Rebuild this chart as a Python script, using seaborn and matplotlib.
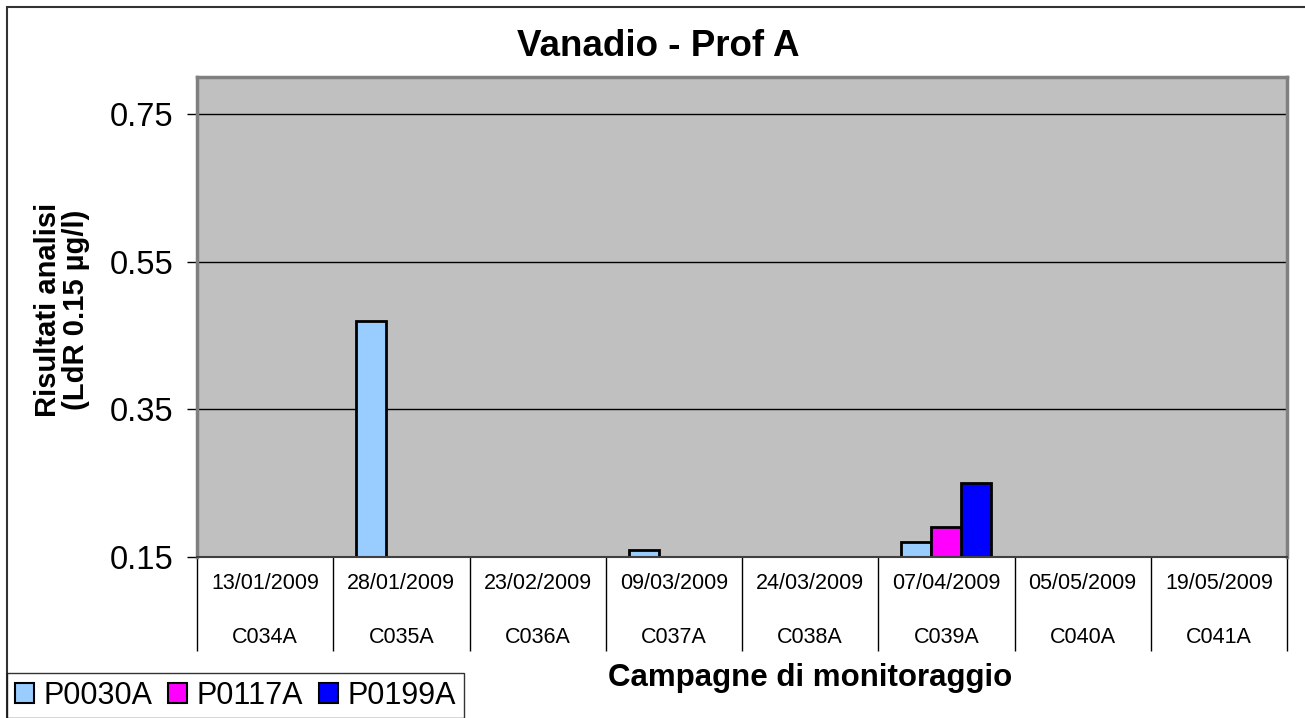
import numpy as np
import pandas as pd
import matplotlib
matplotlib.use("Agg")
import matplotlib.pyplot as plt
import seaborn as sns
from matplotlib.patches import Patch, Rectangle
from matplotlib.transforms import blended_transform_factory

# -------------------------
# DATA
# -------------------------
campagne = ["C034A", "C035A", "C036A", "C037A", "C038A", "C039A", "C040A", "C041A"]
date = ["13/01/2009", "28/01/2009", "23/02/2009", "09/03/2009",
        "24/03/2009", "07/04/2009", "05/05/2009", "19/05/2009"]
punti = ["P0030A", "P0117A", "P0199A"]
p0030a = [np.nan, 0.47, np.nan, 0.16, np.nan, 0.17, np.nan, np.nan]
p0117a = [np.nan, np.nan, np.nan, np.nan, np.nan, 0.19, np.nan, np.nan]
p0199a = [np.nan, np.nan, np.nan, np.nan, np.nan, 0.25, np.nan, np.nan]
colori = ["#99ccff", "#ff00ff", "#0000ff"]
y_ticks = [0.15, 0.35, 0.55, 0.75]

# long format for seaborn
df = pd.DataFrame({
    "campagna": campagne * 3,
    "punto": [p for p in punti for _ in campagne],
    "valore": p0030a + p0117a + p0199a,
}).dropna()

# -------------------------
# STYLE
# -------------------------
sns.set_theme(style="white")
plt.rcParams["font.family"] = ["Liberation Sans", "DejaVu Sans"]
plt.rcParams["text.color"] = "black"
plt.rcParams["axes.labelcolor"] = "black"
plt.rcParams["xtick.color"] = "black"
plt.rcParams["ytick.color"] = "black"

fig = plt.figure(figsize=(13.05, 7.18), dpi=100)
ax = fig.add_axes([197 / 1305, 161 / 718, 1090 / 1305, 480 / 718])

sns.barplot(data=df, x="campagna", y="valore", hue="punto",
            order=campagne, hue_order=punti, palette=colori, saturation=1,
            width=0.66, edgecolor="black", linewidth=2,
            errorbar=None, legend=False, ax=ax)

ax.set_facecolor("#c0c0c0")
ax.set_xlim(-0.5, len(campagne) - 0.5)
ax.set_ylim(0.15, 0.80)
ax.set_yticks(y_ticks)
ax.set_yticklabels([f"{v:.2f}" for v in y_ticks], fontsize=23.5, color="black")
ax.yaxis.grid(True, color="black", linewidth=1)
ax.set_axisbelow(True)
ax.tick_params(axis="y", which="major", direction="out", length=7, width=1,
               color="black", pad=10, left=True)

for side in ["top", "right", "left"]:
    ax.spines[side].set_color("#808080")
    ax.spines[side].set_linewidth(2.5)
ax.spines["bottom"].set_color("#404040")
ax.spines["bottom"].set_linewidth(1.5)

# two-level category table below the axis
ax.set_xticks(range(len(campagne)))
ax.set_xticklabels([])
ax.tick_params(axis="x", which="major", length=0, bottom=False)
ax.set_xticks(np.arange(-0.5, len(campagne), 1), minor=True)
ax.tick_params(axis="x", which="minor", direction="out", length=68, width=1,
               color="black", bottom=True)
trans = blended_transform_factory(ax.transData, ax.transAxes)
for i, (d, c) in enumerate(zip(date, campagne)):
    ax.text(i, -0.056, d, transform=trans, ha="center", va="center",
            fontsize=15.5, color="black")
    ax.text(i, -0.167, c, transform=trans, ha="center", va="center",
            fontsize=15.5, color="black")

ax.set_xlabel("")
ax.set_ylabel("Risultati analisi\n(LdR 0.15 µg/l)", fontsize=21,
              fontweight="bold", linespacing=1.0, color="black")
ax.yaxis.set_label_coords(-0.098, 0.515)

fig.text(658 / 1305, 1 - 46 / 718, "Vanadio - Prof A", ha="center", va="center",
         fontsize=26.5, fontweight="bold", color="black")
fig.text(810 / 1305, 1 - 678 / 718, "Campagne di monitoraggio", ha="center",
         va="center", fontsize=22.5, fontweight="bold", color="black")

# legend at the bottom left
handles = [Patch(facecolor=col, edgecolor="black", linewidth=1.5) for col in colori]
leg = fig.legend(handles, punti, loc="upper left",
                 bbox_to_anchor=(7 / 1305, (718 - 673) / 718),
                 ncol=3, fontsize=22, frameon=True, fancybox=False,
                 handlelength=0.62, handleheight=0.62, handletextpad=0.33,
                 columnspacing=0.5, borderpad=0.25, borderaxespad=0,
                 labelcolor="black")
leg.get_frame().set_edgecolor("black")
leg.get_frame().set_linewidth(1)

# outer chart border
fig.patches.append(Rectangle((7 / 1305, -0.1), 1.2, 1 - 7 / 718 + 0.1,
                             transform=fig.transFigure, fill=False,
                             edgecolor="#333333", linewidth=1.5))

fig.savefig("out.png", dpi=100)
